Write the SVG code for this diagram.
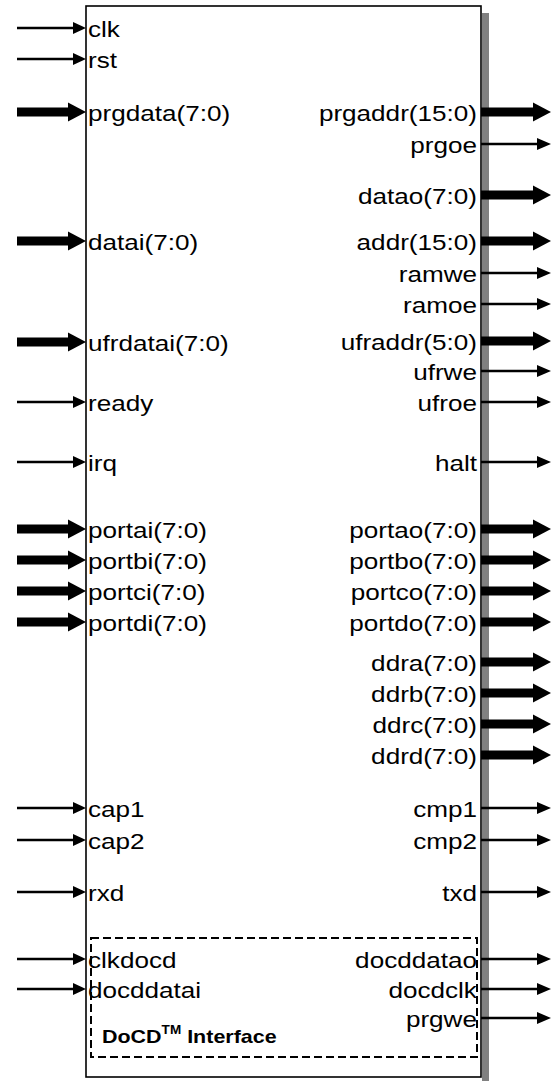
<svg xmlns="http://www.w3.org/2000/svg" width="552" height="1081" viewBox="0 0 552 1081">
  <defs>
    <!-- single-bit pins use a thin arrow, buses a heavy one; y is given by <use> -->
    <g id="inThin"><line x1="17" y1="0" x2="76" y2="0" stroke="#000" stroke-width="2.5"/><polygon points="73,-6 86,0 73,6" fill="#000"/></g>
    <g id="inBus"><rect x="17" y="-4.5" width="53" height="9" fill="#000"/><polygon points="68,-9.5 86,0 68,9.5" fill="#000"/></g>
    <g id="outThin"><line x1="481" y1="0" x2="540" y2="0" stroke="#000" stroke-width="2.5"/><polygon points="537,-6 551,0 537,6" fill="#000"/></g>
    <g id="outBus"><rect x="481" y="-4.5" width="54" height="9" fill="#000"/><polygon points="533,-9.5 551,0 533,9.5" fill="#000"/></g>
  </defs>
  <style>
    text { font-family: "Liberation Sans", Arial, sans-serif; font-size: 22.5px; fill: #000; transform-box: fill-box; }
    .l { text-anchor: start; transform-origin: left center; transform: scaleX(1.16); }
    .r { text-anchor: end; transform-origin: right center; transform: scaleX(1.16); }
    .b { font-weight: bold; font-size: 19px; transform: scaleX(1.13); }
  </style>

  <g id="block">
    <rect x="482" y="13" width="7" height="1068" fill="#808080"/>
    <rect x="86" y="6" width="395" height="1071" fill="#fff" stroke="#000" stroke-width="1.6"/>
  </g>

  <g id="docd">
    <rect x="91" y="938" width="386" height="119" fill="none" stroke="#000" stroke-width="2" stroke-dasharray="8,4"/>
    <text class="l b" x="102" y="1043">DoCD<tspan font-size="12" dy="-9">TM</tspan><tspan dy="9"> Interface</tspan></text>
  </g>

  <g id="connectors">
    <use href="#inThin" y="28"/>
    <use href="#inThin" y="59"/>
    <use href="#inBus" y="112"/>
    <use href="#inBus" y="241"/>
    <use href="#inBus" y="342"/>
    <use href="#inThin" y="402"/>
    <use href="#inThin" y="462"/>
    <use href="#inBus" y="529"/>
    <use href="#inBus" y="560"/>
    <use href="#inBus" y="591"/>
    <use href="#inBus" y="622"/>
    <use href="#inThin" y="808"/>
    <use href="#inThin" y="840"/>
    <use href="#inThin" y="892"/>
    <use href="#inThin" y="959"/>
    <use href="#inThin" y="989"/>

    <use href="#outBus" y="112"/>
    <use href="#outThin" y="144"/>
    <use href="#outBus" y="195"/>
    <use href="#outBus" y="241"/>
    <use href="#outThin" y="273"/>
    <use href="#outThin" y="304"/>
    <use href="#outBus" y="341"/>
    <use href="#outThin" y="371"/>
    <use href="#outThin" y="402"/>
    <use href="#outThin" y="462"/>
    <use href="#outBus" y="529"/>
    <use href="#outBus" y="560"/>
    <use href="#outBus" y="591"/>
    <use href="#outBus" y="622"/>
    <use href="#outBus" y="662"/>
    <use href="#outBus" y="693"/>
    <use href="#outBus" y="724"/>
    <use href="#outBus" y="755"/>
    <use href="#outThin" y="808"/>
    <use href="#outThin" y="840"/>
    <use href="#outThin" y="892"/>
    <use href="#outThin" y="959"/>
    <use href="#outThin" y="989"/>
    <use href="#outThin" y="1018"/>
  </g>

  <g id="inputs">
    <text class="l" x="88" y="37">clk</text>
    <text class="l" x="88" y="68">rst</text>
    <text class="l" x="88" y="121">prgdata(7:0)</text>
    <text class="l" x="88" y="250">datai(7:0)</text>
    <text class="l" x="88" y="351">ufrdatai(7:0)</text>
    <text class="l" x="88" y="411">ready</text>
    <text class="l" x="88" y="471">irq</text>
    <text class="l" x="88" y="538">portai(7:0)</text>
    <text class="l" x="88" y="569">portbi(7:0)</text>
    <text class="l" x="88" y="600">portci(7:0)</text>
    <text class="l" x="88" y="631">portdi(7:0)</text>
    <text class="l" x="88" y="817">cap1</text>
    <text class="l" x="88" y="849">cap2</text>
    <text class="l" x="88" y="901">rxd</text>
    <text class="l" x="88" y="968">clkdocd</text>
    <text class="l" x="88" y="998">docddatai</text>
  </g>

  <g id="outputs">
    <text class="r" x="477" y="121">prgaddr(15:0)</text>
    <text class="r" x="477" y="153">prgoe</text>
    <text class="r" x="477" y="204">datao(7:0)</text>
    <text class="r" x="477" y="250">addr(15:0)</text>
    <text class="r" x="477" y="282">ramwe</text>
    <text class="r" x="477" y="313">ramoe</text>
    <text class="r" x="477" y="350">ufraddr(5:0)</text>
    <text class="r" x="477" y="380">ufrwe</text>
    <text class="r" x="477" y="411">ufroe</text>
    <text class="r" x="477" y="471">halt</text>
    <text class="r" x="477" y="538">portao(7:0)</text>
    <text class="r" x="477" y="569">portbo(7:0)</text>
    <text class="r" x="477" y="600">portco(7:0)</text>
    <text class="r" x="477" y="631">portdo(7:0)</text>
    <text class="r" x="477" y="671">ddra(7:0)</text>
    <text class="r" x="477" y="702">ddrb(7:0)</text>
    <text class="r" x="477" y="733">ddrc(7:0)</text>
    <text class="r" x="477" y="764">ddrd(7:0)</text>
    <text class="r" x="477" y="817">cmp1</text>
    <text class="r" x="477" y="849">cmp2</text>
    <text class="r" x="477" y="901">txd</text>
    <text class="r" x="477" y="968">docddatao</text>
    <text class="r" x="477" y="998">docdclk</text>
    <text class="r" x="477" y="1027">prgwe</text>
  </g>
</svg>
